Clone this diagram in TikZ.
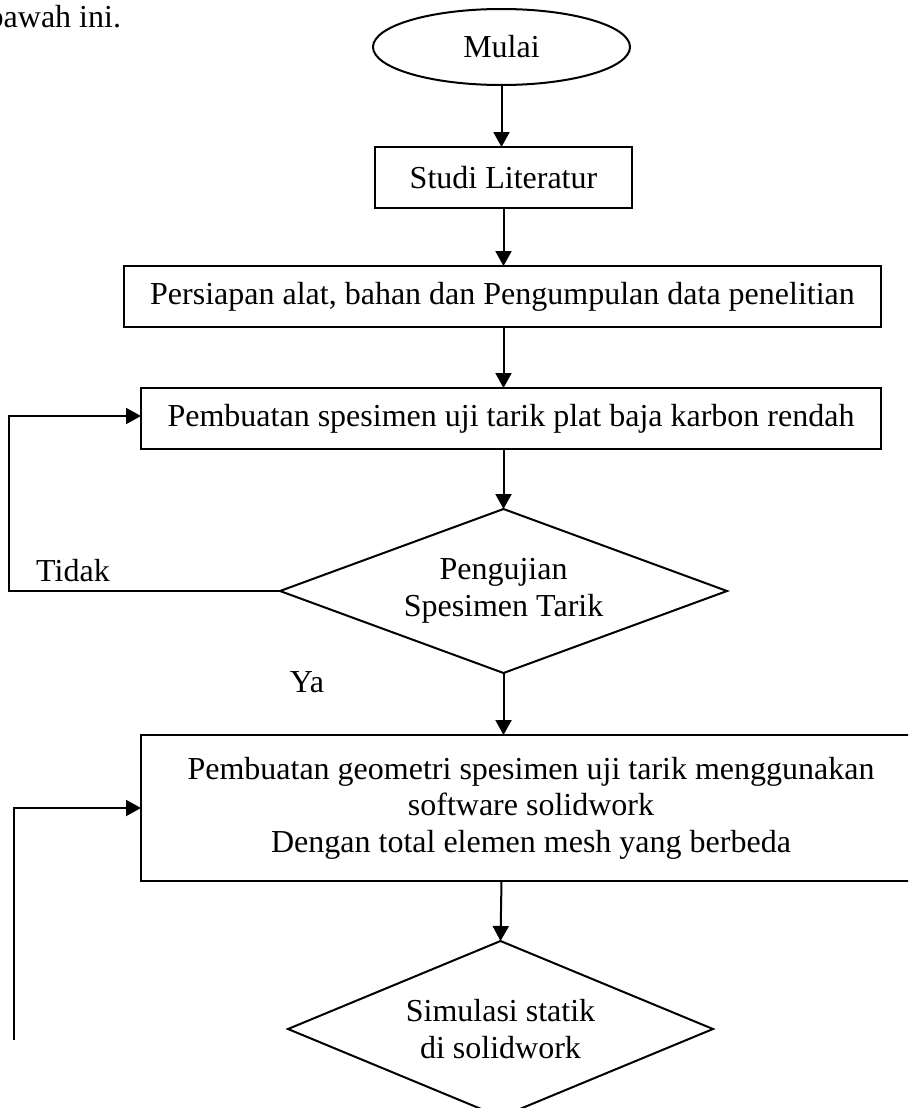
\documentclass[tikz,border=0pt]{standalone}
\usepackage{fontspec}
\setmainfont{Liberation Serif}
\usetikzlibrary{shapes.geometric,arrows.meta}
\tikzset{
  every node/.style={font=\fontsize{32}{36.5}\selectfont, inner sep=0pt, outer sep=0pt},
  procbox/.style={draw, line width=2pt, rectangle, align=center},
  startend/.style={draw, line width=2pt, ellipse},
  decide/.style={draw, line width=2pt, diamond, aspect=2.7, align=center},
  flow/.style={line width=2pt, -{Triangle[width=16pt,length=15pt]}},
  lbl/.style={}
}
\begin{document}
\begin{tikzpicture}[x=1pt,y=-1pt]
\useasboundingbox (0,0) rectangle (908,1108);
\clip (0,0) rectangle (908,1108);

\node[lbl, anchor=base east] (intro) at (121,28) {bawah ini.};

\node[startend, minimum width=257pt, minimum height=76pt] (start) at (501.5,47) {Mulai};
\node[procbox, minimum width=257pt, minimum height=61pt] (studi) at (503.5,177.5) {Studi Literatur};
\node[procbox, minimum width=757pt, minimum height=61pt] (persiapan) at (502.5,296.5) {Persiapan alat, bahan dan Pengumpulan data penelitian};
\node[procbox, minimum width=740pt, minimum height=61pt] (spesimen) at (511,418.5) {Pembuatan spesimen uji tarik plat baja karbon rendah};
\node[decide, minimum width=447pt, minimum height=164pt] (uji) at (503.5,591) {Pengujian\\Spesimen Tarik};
\node[procbox, minimum width=780pt, minimum height=146pt] (geo) at (531,808) {Pembuatan geometri spesimen uji tarik menggunakan\\software solidwork\\Dengan total elemen mesh yang berbeda};
\node[decide, minimum width=425pt, minimum height=176pt] (sim) at (500.5,1029) {Simulasi statik\\di solidwork};

\node[lbl] (tidak) at (73,571) {Tidak};
\node[lbl] (ya) at (307,682) {Ya};

\coordinate (loopA) at (9,591);
\coordinate (loopB) at (14,1040);

\draw[flow] (start.south) -- (start.south |- studi.north);
\draw[flow] (studi.south) -- (studi.south |- persiapan.north);
\draw[flow] (503.5,0 |- persiapan.south) -- (503.5,0 |- spesimen.north);
\draw[flow] (503.5,0 |- spesimen.south) -- (uji.north);
\draw[flow] (uji.south) -- (uji.south |- geo.north);
\draw[flow] (501.5,0 |- geo.south) -- (sim.north);
\draw[flow] (uji.west) -- (loopA) |- ([yshift=2.5pt]spesimen.west);
\draw[flow] (loopB) |- (geo.west);
\end{tikzpicture}
\end{document}
